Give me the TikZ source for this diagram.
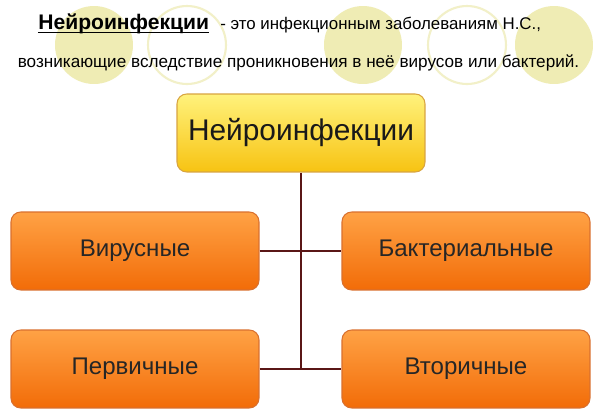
\documentclass[tikz,border=0pt]{standalone}
\usepackage{fontspec}
\setmainfont{Liberation Sans}
\usetikzlibrary{positioning}
\definecolor{circfill}{HTML}{EFECB4}
\definecolor{circline}{HTML}{F2F0C8}
\definecolor{linkcol}{HTML}{5A1616}
\definecolor{topup}{HTML}{FFF27C}
\definecolor{topdown}{HTML}{F7C312}
\definecolor{topedge}{HTML}{D8A440}
\definecolor{subup}{HTML}{FFA245}
\definecolor{subdown}{HTML}{F26C08}
\definecolor{subedge}{HTML}{D9702E}

\tikzset{
  topbox/.style={draw=topedge, line width=0.6pt, rounded corners=5.5pt,
    top color=topup, bottom color=topdown,
    minimum width=4.96cm, minimum height=1.56cm,
    font=\fontsize{17}{20}\selectfont, text=black!90},
  subbox/.style={draw=subedge, line width=0.6pt, rounded corners=5.5pt,
    top color=subup, bottom color=subdown,
    minimum width=4.96cm, minimum height=1.56cm,
    font=\fontsize{13.7}{16}\selectfont, text=black!85},
  link/.style={draw=linkcol, line width=1.7pt}
}

\begin{document}
\begin{tikzpicture}[x=0.02cm,y=-0.02cm]
  \def\rc{0.78cm}
  \useasboundingbox[fill=white] (0,0) rectangle (600,413);
  % pale circles behind the heading
  \foreach \cx in {94,363,554}
    \fill[circfill] (\cx,45) circle (\rc);
  \foreach \cx in {187,467}
    \draw[circline, line width=1.2pt] (\cx,45) circle (\rc);
  % heading
  \node[anchor=west, inner sep=0pt, font=\fontsize{12}{14}\selectfont\bfseries] (headword) at (38,24) {Нейроинфекции};
  \node[anchor=base west, inner sep=0pt, font=\fontsize{9.6}{12}\selectfont] (headrest) at ([xshift=6pt]headword.base east) {- это инфекционным заболеваниям Н.С.,};
  \draw[line width=0.8pt] ([yshift=-1.6pt]headword.base west) -- ([yshift=-1.6pt]headword.base east);
  \node[inner sep=0pt, font=\fontsize{9.75}{12}\selectfont] (def) at (298.5,63)
    {возникающие вследствие проникновения в неё вирусов или бактерий.};
  % boxes
  \node[topbox] (neuro) at (301,133) {Нейроинфекции};
  \node[subbox] (vir) at (135,251) {Вирусные};
  \node[subbox] (bak) at (466,251) {Бактериальные};
  \node[subbox] (perv) at (135,369) {Первичные};
  \node[subbox] (vtor) at (466,369) {Вторичные};
  % connectors
  \draw[link] (neuro.south) -- (neuro.south |- perv.east);
  \draw[link] (vir.east) -- (bak.west);
  \draw[link] (perv.east) -- (vtor.west);
\end{tikzpicture}
\end{document}
